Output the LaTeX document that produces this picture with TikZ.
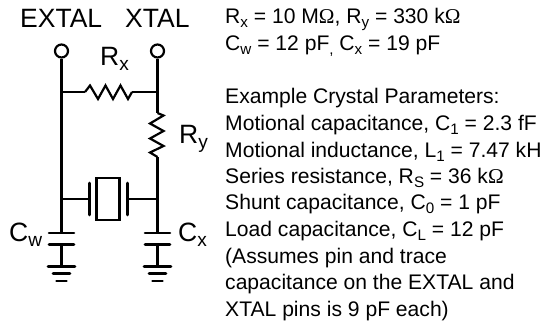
\documentclass[tikz,border=0pt]{standalone}
\usepackage{fontspec}
\usepackage{graphicx}
\setmainfont{Liberation Sans}
\newfontfamily\omegafont{Liberation Serif}
\newcommand{\lowtext}[1]{\raisebox{-0.22em}{\scalebox{0.72}{#1}}}
\newcommand{\ohm}{{\omegafont\char"03A9}}

\tikzset{
    wire/.style={black, line width=2.8pt},
    plate/.style={black, line width=2.6pt, line cap=round},
    pin/.style={circle, draw=black, line width=2.2pt, fill=white, minimum size=13pt, inner sep=0pt},
    zigzagwire/.style={black, line width=2.2pt, miter limit=4},
    biglabel/.style={inner sep=0pt, anchor=base west, font=\fontsize{26.5}{30}\selectfont},
    notes/.style={inner sep=0pt, anchor=base west, font=\fontsize{21.1}{24}\selectfont}
}

\begin{document}
\begin{tikzpicture}[x=1pt, y=-1pt]
        \useasboundingbox (0,0) rectangle (545,325);
        % labels of the circuit
        \node [biglabel] (extal) at (20,27) {EXTAL};
        \node [biglabel] (xtal) at (125,27) {XTAL};
        \node [biglabel] (rx) at (100,65) {R\lowtext{x}};
        \node [biglabel] (ry) at (179,143) {R\lowtext{y}};
        \node [biglabel] (cw) at (9,241) {C\lowtext{w}};
        \node [biglabel] (cx) at (178,241) {C\lowtext{x}};
        % pins and junctions
        \node [pin] (pinleft) at (61.5,51) {};
        \node [pin] (pinright) at (157.5,51) {};
        \coordinate (rxleft) at (61.5,92);
        \coordinate (rxright) at (157.5,92);
        \coordinate (rxa) at (85,92);
        \coordinate (rxb) at (132,92);
        \coordinate (rya) at (157.5,113);
        \coordinate (ryb) at (157.5,157);
        \coordinate (xleft) at (61.5,199);
        \coordinate (xright) at (157.5,199);
        \coordinate (platea) at (89.5,199);
        \coordinate (plateb) at (127.5,199);
        \node [draw=black, line width=2.4pt, minimum width=23pt, minimum height=42pt, inner sep=0pt] (crystal) at (108,199) {};
        % capacitors and grounds
        \coordinate (cwtop) at (61.5,233);
        \coordinate (cwbot) at (61.5,244.5);
        \coordinate (gwtop) at (61.5,266.5);
        \coordinate (cxtop) at (157.5,233);
        \coordinate (cxbot) at (157.5,244.5);
        \coordinate (gxtop) at (157.5,266.5);
        \draw [wire] (pinleft) -- (rxleft) -- (xleft) -- (cwtop);
        \draw [wire] (pinright) -- (rxright) -- (rya);
        \draw [wire] (ryb) -- (xright) -- (cxtop);
        \draw [wire] (rxleft) -- (rxa);
        \draw [wire] (rxb) -- (rxright);
        \draw [zigzagwire] (rxa) -- ++(5,-6.5) -- ++(8,13.5) -- ++(7.5,-13.5) -- ++(7.5,13.5) -- ++(7.5,-13.5) -- ++(7.5,13.5) -- (rxb);
        \draw [zigzagwire] (rya) -- ++(6,2.5) -- ++(-13.5,8) -- ++(13.5,7.5) -- ++(-13.5,7.5) -- ++(13.5,7.5) -- ++(-13.5,6.5) -- (ryb);
        \draw [wire] (xleft) -- (platea);
        \draw [wire] (plateb) -- ([xshift=-2pt]xright);
        \draw [plate] (89.5,183) -- (platea) -- (89.5,215);
        \draw [plate] (127.5,183) -- (plateb) -- (127.5,215);
        \draw [wire] (cwbot) -- (gwtop);
        \draw [wire] (cxbot) -- (gxtop);
        \draw [plate] ([xshift=-12.5pt]cwtop) -- ([xshift=12.5pt]cwtop);
        \draw [plate] ([xshift=-12.5pt]cwbot) -- ([xshift=12.5pt]cwbot);
        \draw [plate] ([xshift=-12.5pt]cxtop) -- ([xshift=12.5pt]cxtop);
        \draw [plate] ([xshift=-12.5pt]cxbot) -- ([xshift=12.5pt]cxbot);
        \draw [plate] ([xshift=-13.5pt]gwtop) -- ([xshift=13.5pt]gwtop);
        \draw [plate] ([xshift=-8.5pt,yshift=-7pt]gwtop) -- ([xshift=8.5pt,yshift=-7pt]gwtop);
        \draw [plate] ([xshift=-5pt,yshift=-14.5pt]gwtop) -- ([xshift=5pt,yshift=-14.5pt]gwtop);
        \draw [plate] ([xshift=-13.5pt]gxtop) -- ([xshift=13.5pt]gxtop);
        \draw [plate] ([xshift=-8.5pt,yshift=-7pt]gxtop) -- ([xshift=8.5pt,yshift=-7pt]gxtop);
        \draw [plate] ([xshift=-5pt,yshift=-14.5pt]gxtop) -- ([xshift=5pt,yshift=-14.5pt]gxtop);
        % text at the right
        \node [notes] (valuesr) at (225,23) {R\lowtext{x} = 10 M\ohm, R\lowtext{y} = 330 k\ohm};
        \node [notes] (valuesc) at (225,50) {C\lowtext{w} = 12 pF\lowtext{,} C\lowtext{x} = 19 pF};
        \node [notes] (example) at (225,103) {Example Crystal Parameters:};
        \node [notes] (motcap) at (225,130) {Motional capacitance, C\lowtext{1} = 2.3 fF};
        \node [notes] (motind) at (225,157) {Motional inductance, L\lowtext{1} = 7.47 kH};
        \node [notes] (series) at (225,183) {Series resistance, R\lowtext{S} = 36 k\ohm};
        \node [notes] (shunt) at (225,209) {Shunt capacitance, C\lowtext{0} = 1 pF};
        \node [notes] (load) at (225,236) {Load capacitance, C\lowtext{L} = 12 pF};
        \node [notes] (assumes) at (225,263) {(Assumes pin and trace};
        \node [notes] (trace) at (225,289) {capacitance on the EXTAL and};
        \node [notes] (each) at (225,316) {XTAL pins is 9 pF each)};
    \end{tikzpicture}
\end{document}
